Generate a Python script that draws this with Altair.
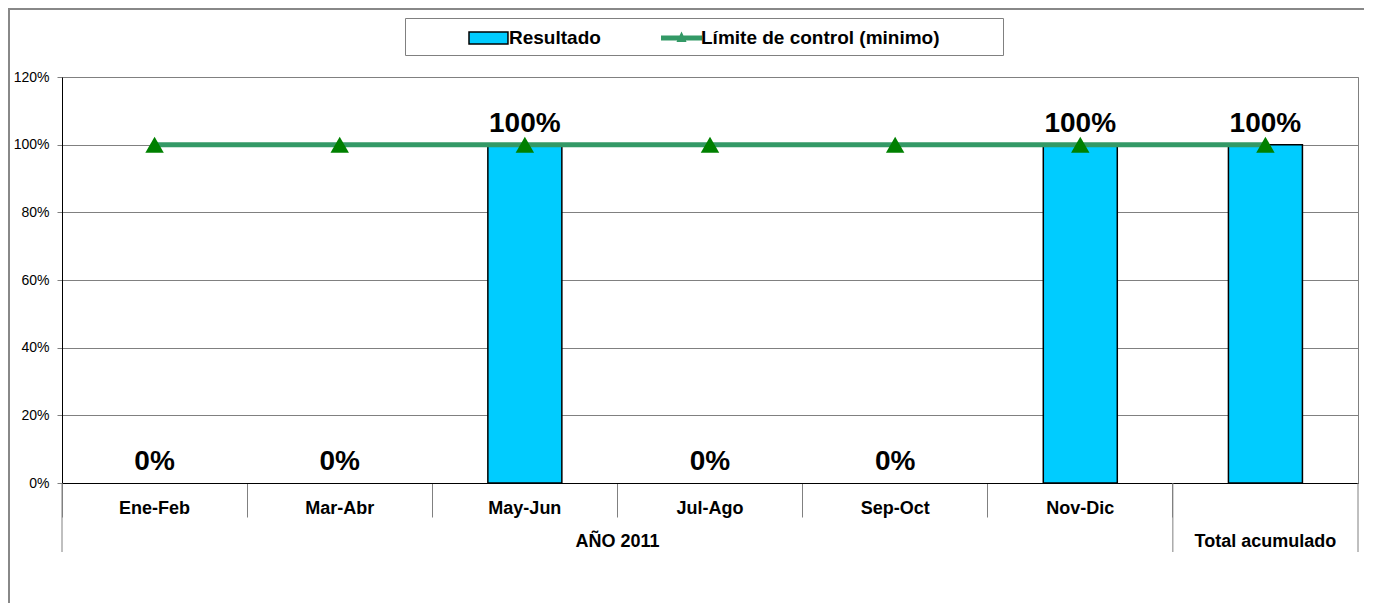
import altair as alt
import pandas as pd

# ---- data ----
categories = ["Ene-Feb", "Mar-Abr", "May-Jun", "Jul-Ago", "Sep-Oct", "Nov-Dic", "Total acumulado"]
level1_labels = ["Ene-Feb", "Mar-Abr", "May-Jun", "Jul-Ago", "Sep-Oct", "Nov-Dic", ""]
resultado = [0.0, 0.0, 1.0, 0.0, 0.0, 1.0, 1.0]
limite = [1.0, 1.0, 1.0, 1.0, 1.0, 1.0, 1.0]
series = ["Resultado", "Límite de control (minimo)"]
series_colors = ["#00CCFF", "#339966"]
groups = ["AÑO 2011", "Total acumulado"]
group_spans = [6, 1]

FONT = "Liberation Sans"
W, H = 1296, 406

rows = []
for c, r, l in zip(categories, resultado, limite):
    rows.append({"cat": c, "serie": series[0], "value": r})
    rows.append({"cat": c, "serie": series[1], "value": l})
df = pd.DataFrame(rows)

starts, ends = [], []
acc = 0
for s in group_spans:
    starts.append(acc)
    acc += s
    ends.append(acc)
df_groups = pd.DataFrame({"group": groups, "start": starts, "end": ends})
df_groups["mid"] = (df_groups["start"] + df_groups["end"]) / 2
bounds = sorted(set(starts + ends))
df_bounds = pd.DataFrame({"b": bounds})

label_expr = " : ".join(
    [f"datum.value == '{c}' ? '{l}'" for c, l in zip(categories, level1_labels)]
) + " : datum.value"

xscale = alt.Scale(domain=categories, paddingInner=0, paddingOuter=0)
yscale = alt.Scale(domain=[0, 1.2])

x_enc = alt.X(
    "cat:N", sort=categories, scale=xscale, title=None,
    axis=alt.Axis(
        bandPosition=0, tickSize=34, tickColor="#808080", domainColor="black",
        labelAngle=0, labelFont=FONT, labelFontSize=18, labelFontWeight="bold",
        labelColor="black", labelBaseline="alphabetic", labelPadding=-4,
        labelExpr=label_expr, grid=False,
    ),
)
y_enc = alt.Y(
    "value:Q", scale=yscale, title=None,
    axis=alt.Axis(
        values=[0, 0.2, 0.4, 0.6, 0.8, 1.0, 1.2], format=".0%",
        tickSize=5, tickColor="#808080", domainColor="black",
        labelFont=FONT, labelFontSize=14, labelColor="black", labelPadding=8,
        grid=True, gridColor="#808080", gridWidth=1,
    ),
)

base = alt.Chart(df)

bars = base.transform_filter(alt.datum.serie == series[0]).mark_bar(
    size=74, fill=series_colors[0], stroke="black", opacity=1
).encode(
    x=x_enc, y=y_enc,
    strokeWidth=alt.condition(alt.datum.value > 0, alt.value(1.5), alt.value(0)),
)

line = base.transform_filter(alt.datum.serie == series[1]).mark_line(
    strokeWidth=5, color=series_colors[1]
).encode(x=x_enc, y=y_enc)

points = base.transform_filter(alt.datum.serie == series[1]).mark_point(
    shape="triangle-up", filled=True, fill="#008000", size=340, opacity=1
).encode(x=x_enc, y=y_enc)

labels = base.transform_filter(alt.datum.serie == series[0]).mark_text(
    font=FONT, fontSize=28, fontWeight="bold", color="black",
    baseline="alphabetic", dy=-13
).encode(x=x_enc, y=y_enc, text=alt.Text("value:Q", format=".0%"))

# legend (two entries in one row) from an invisible layer
rect_path = "M-1,-0.667H3.33V0.667H-1Z"
line_path = "M-1,-0.28H3.56V0.28H-1Z M1.28,-0.72L1.84,0.44H0.72Z"
leg = alt.Legend(
    title=None, orient="none", legendX=406, legendY=-49, direction="horizontal",
    labelFont=FONT, labelFontSize=19, labelFontWeight="bold", labelColor="black",
    padding=0, symbolSize=324, symbolOffset=0,
    labelOffset=21, columnPadding=57, labelLimit=400, symbolOpacity=1,
    symbolStrokeWidth=1.5,
)
legend_layer = alt.Chart(pd.DataFrame({"serie": series})).mark_point(
    filled=True, opacity=0
).encode(
    color=alt.Color("serie:N", scale=alt.Scale(domain=series, range=series_colors), legend=leg),
    shape=alt.Shape("serie:N", scale=alt.Scale(domain=series, range=[rect_path, line_path]), legend=leg),
    stroke=alt.Stroke("serie:N", scale=alt.Scale(domain=series, range=["black", "transparent"]), legend=leg),
)

main = alt.layer(bars, line, points, labels, legend_layer)

gx = alt.Scale(domain=[0, len(categories)], nice=False, zero=False)
sep = alt.Chart(df_bounds).mark_rule(color="#808080", strokeWidth=1).encode(
    x=alt.X("b:Q", scale=gx, axis=None), y=alt.value(H), y2=alt.value(H + 69)
)
gtext = alt.Chart(df_groups).mark_text(
    font=FONT, fontSize=18, fontWeight="bold", color="black", baseline="alphabetic"
).encode(x=alt.X("mid:Q", scale=gx, axis=None), y=alt.value(H + 64), text="group:N")
grp = alt.layer(sep, gtext)

one = pd.DataFrame({"k": [0]})
frame = alt.Chart(one).mark_rect(
    fillOpacity=0, stroke="#888888", strokeWidth=2
).encode(x=alt.value(-53), y=alt.value(-68), x2=alt.value(W + 200), y2=alt.value(H + 300))
legend_box = alt.Chart(one).mark_rect(
    fill="white", stroke="#808080", strokeWidth=1
).encode(x=alt.value(343.5), y=alt.value(-58.5), x2=alt.value(941.5), y2=alt.value(-21.5))

chart = alt.layer(frame, legend_box, main, grp).resolve_scale(x="independent").properties(
    width=W, height=H,
    padding={"left": 54, "top": 69, "right": 6, "bottom": 120},
    autosize=alt.AutoSizeParams(type="none"),
).configure_view(stroke="#808080")

chart.save("out.html", embed_options={"renderer": "svg", "actions": False})
